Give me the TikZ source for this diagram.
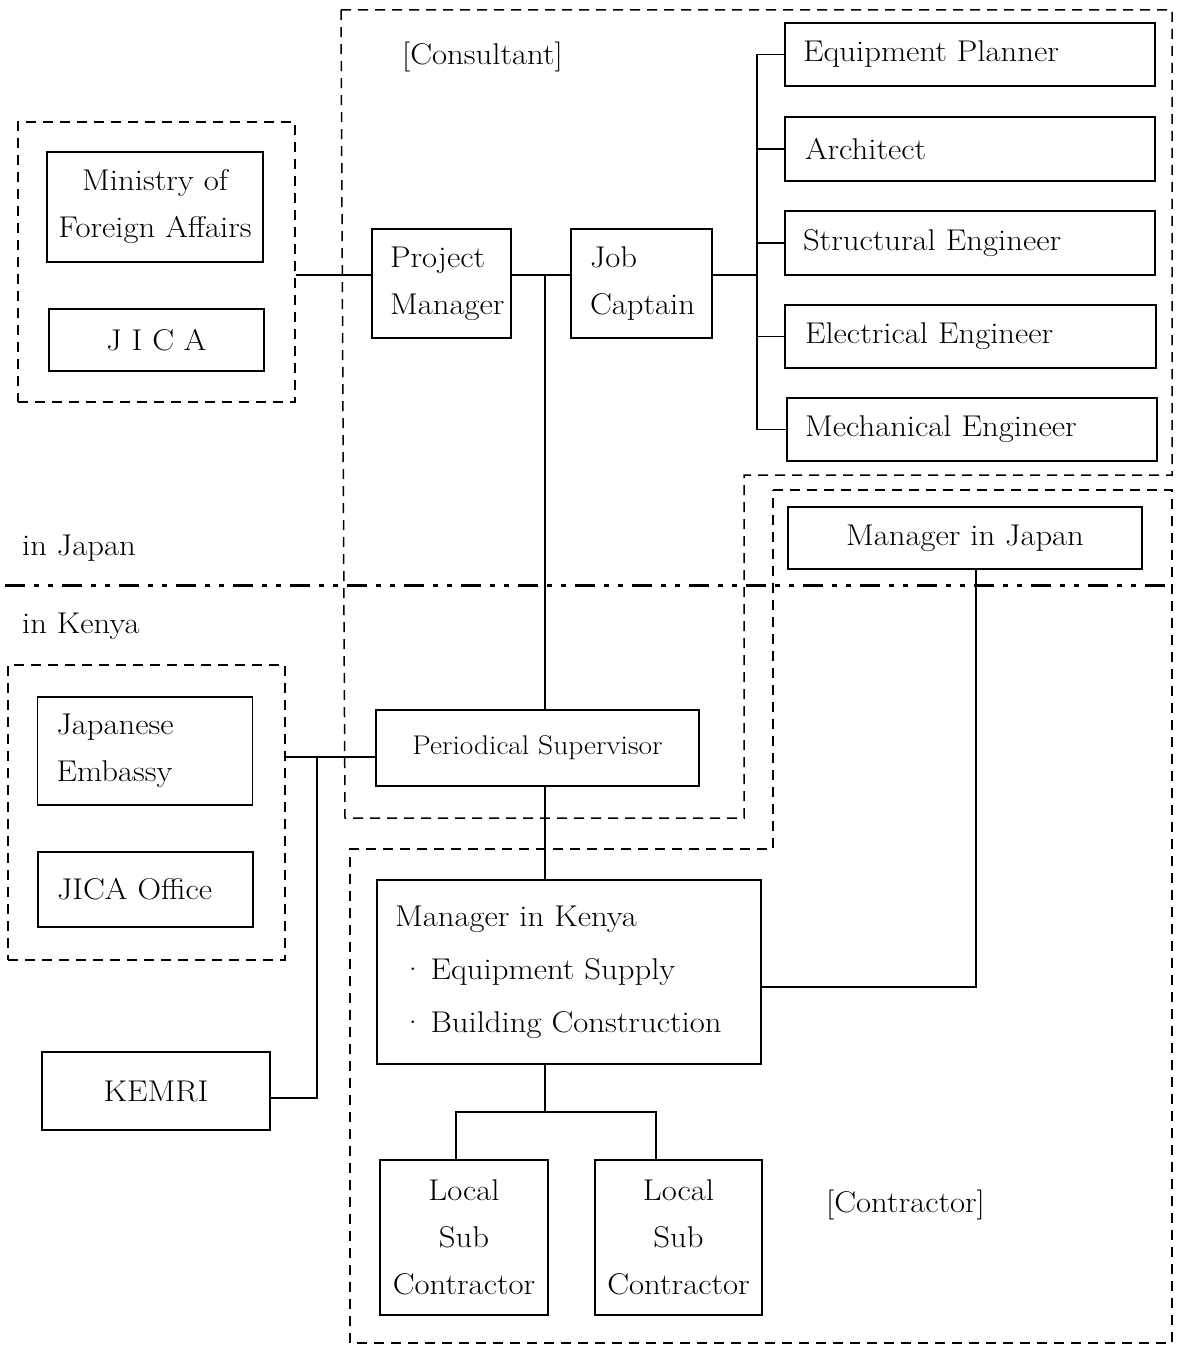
\documentclass[tikz,border=0pt]{standalone}
\usepackage{fontspec}
\setmainfont{Latin Modern Roman}[FakeStretch=1.09]
\usetikzlibrary{calc}
\begin{document}
\begin{tikzpicture}[x=1pt,y=-1pt,
  box/.style={draw, line width=1.6pt, inner sep=0pt, font=\fontsize{30}{47}\selectfont},
  lbox/.style={box, align=left},
  cbox/.style={box, align=center},
  grp/.style={draw, line width=1.5pt, dash pattern=on 10pt off 7pt},
  conn/.style={draw, line width=1.6pt},
  lbl/.style={inner sep=0pt, font=\fontsize{30}{47}\selectfont},
  divider/.style={draw, line width=3pt, dash pattern=on 20pt off 9pt on 5pt off 9pt on 5pt off 9pt}
]
\useasboundingbox (0,0) rectangle (1179,1348);

% region outlines of the two companies
\draw[grp] (341,10) -- (1172,10) -- (1172,475) -- (744,475) -- (744,818) -- (345,818) -- cycle;
\draw[grp] (773,490) -- (1172,490) -- (1172,1343) -- (350,1343) -- (350,849) -- (773,849) -- cycle;

% Japan / Kenya border
\draw[divider] (5,585) -- (1174,585);
\node[lbl, anchor=west] (injp) at (22,548) {in Japan};
\node[lbl, anchor=west] (inke) at (22,626) {in Kenya};

% government groups
\node[grp, minimum width=277pt, minimum height=280pt, inner sep=0pt] (gjp) at (156.5,262) {};
\node[grp, minimum width=277pt, minimum height=295pt, inner sep=0pt] (gke) at (146.5,812.5) {};

\node[cbox, text width=208pt, inner xsep=4pt, minimum height=110pt] (mofa) at (155,207) {Ministry of\\Foreign Affairs};
\node[cbox, minimum width=215pt, minimum height=62pt] (jica) at (156.5,340) {J I C A};
\node[lbox, text width=177pt, inner xsep=19pt, minimum height=108pt] (emb) at (145,751) {Japanese\\Embassy};
\node[lbox, text width=177pt, inner xsep=19pt, minimum height=75pt] (jo) at (145.5,889.5) {JICA Office};
\node[cbox, minimum width=228pt, minimum height=78pt] (kemri) at (156,1091) {KEMRI};

% consultant
\node[lbl, anchor=west] (cons) at (402,57) {[Consultant]};
\node[lbox, text width=103pt, inner xsep=18pt, minimum height=109pt] (pm) at (441.5,283.5) {Project\\Manager};
\node[lbox, text width=103pt, inner xsep=19pt, minimum height=109pt] (jc) at (641.5,283.5) {Job\\Captain};
\node[lbox, text width=334pt, inner xsep=18pt, minimum height=63pt] (ep) at (970,54.5) {Equipment Planner};
\node[lbox, text width=330pt, inner xsep=20pt, minimum height=64pt] (arch) at (970,149) {Architect};
\node[lbox, text width=334pt, inner xsep=18pt, minimum height=64pt] (se) at (970,243) {Structural Engineer};
\node[lbox, text width=331pt, inner xsep=20pt, minimum height=63pt] (ee) at (970.5,336.5) {Electrical Engineer};
\node[lbox, text width=334pt, inner xsep=18pt, minimum height=63pt] (me) at (972,429.5) {Mechanical Engineer};
\node[box, minimum width=323pt, minimum height=76pt, font=\fontsize{27}{40}\selectfont] (ps) at (537.5,748) {Periodical Supervisor};

% contractor
\node[cbox, minimum width=354pt, minimum height=62pt] (mj) at (965,538) {Manager in Japan};
\node[lbox, text width=348pt, inner xsep=18pt, minimum height=184pt] (mk) at (569,972)
  {Manager in Kenya\\[6pt]
   \hspace*{6pt}\textperiodcentered\hspace{6pt}Equipment Supply\\[6pt]
   \hspace*{6pt}\textperiodcentered\hspace{6pt}Building Construction};
\node[cbox, text width=160pt, inner xsep=4pt, minimum height=155pt] (ls1) at (464,1237.5) {Local\\Sub\\Contractor};
\node[cbox, text width=159pt, inner xsep=4pt, minimum height=155pt] (ls2) at (678.5,1237.5) {Local\\Sub\\Contractor};
\node[lbl, anchor=west] (contr) at (826,1205) {[Contractor]};

% junction levels and branch columns
\coordinate (lvl) at (0,275);
\coordinate (bus) at (757,0);
\coordinate (col) at (545,0);
\coordinate (lvl2) at (0,757);
\coordinate (br) at (317,0);
\coordinate (col2) at (976,0);
\coordinate (lvl3) at (0,987);
\coordinate (t1) at (456,1112);
\coordinate (t2) at (656,1112);

% connectors
\draw[conn] (gjp.east |- lvl) -- (pm.west |- lvl);
\draw[conn] (pm.east |- lvl) -- (jc.west |- lvl);
\draw[conn] (jc.east |- lvl) -- (bus |- lvl);
\draw[conn] (ep.west) -- (bus |- ep.west) -- (bus |- me.west) -- (me.west);
\draw[conn] (bus |- arch.west) -- (arch.west);
\draw[conn] (bus |- se.west) -- (se.west);
\draw[conn] (bus |- ee.west) -- (ee.west);
\draw[conn] (col |- lvl) -- (col |- ps.north);
\draw[conn] (col |- ps.south) -- (col |- mk.north);
\draw[conn] (gke.east |- lvl2) -- (ps.west |- lvl2);
\draw[conn] (br |- lvl2) -- ($(br |- kemri.east)+(0,7)$) -- ($(kemri.east)+(0,7)$);
\draw[conn] (col2 |- mj.south) -- (col2 |- lvl3) -- (mk.east |- lvl3);
\draw[conn] (col |- mk.south) -- (col |- t1);
\draw[conn] (t1 |- ls1.north) -- (t1) -- (t2) -- (t2 |- ls2.north);
\end{tikzpicture}
\end{document}
